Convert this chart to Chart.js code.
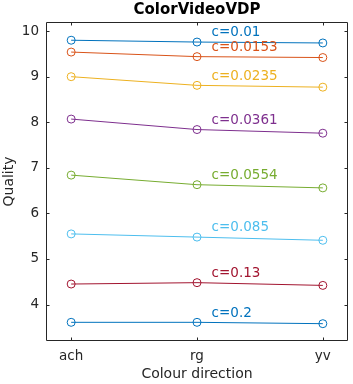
<!DOCTYPE html>
<html>
<head>
<meta charset="utf-8">
<script src="https://cdn.jsdelivr.net/npm/chart.js@4"></script>
<style>
html,body{margin:0;padding:0;background:#fff;}
#wrap{width:353px;height:384px;position:relative;}
</style>
</head>
<body>
<div id="wrap"><canvas id="c" width="353" height="384"></canvas></div>
<script>
const categories = ['ach', 'rg', 'yv'];
const contrastLabels = ['c=0.01', 'c=0.0153', 'c=0.0235', 'c=0.0361', 'c=0.0554', 'c=0.085', 'c=0.13', 'c=0.2'];
const q_c0010 = [9.80, 9.76, 9.74];
const q_c0153 = [9.54, 9.44, 9.42];
const q_c0235 = [9.00, 8.81, 8.77];
const q_c0361 = [8.07, 7.84, 7.76];
const q_c0554 = [6.84, 6.63, 6.56];
const q_c0850 = [5.55, 5.48, 5.41];
const q_c1300 = [4.45, 4.48, 4.42];
const q_c2000 = [3.61, 3.61, 3.58];
const yTickValues = [4, 5, 6, 7, 8, 9, 10];
const seriesValues = [q_c0010, q_c0153, q_c0235, q_c0361, q_c0554, q_c0850, q_c1300, q_c2000];
const colors = ['#0072BD', '#D95319', '#EDB120', '#7E2F8E', '#77AC30', '#4DBEEE', '#A2142F', '#0072BD'];

const AX = '#262626';
const FONT = 'DejaVu Sans';

const datasets = seriesValues.map((vals, i) => ({
  label: contrastLabels[i],
  data: vals.map((v, j) => ({x: j, y: v})),
  borderColor: colors[i],
  pointBorderColor: colors[i],
  backgroundColor: 'rgba(0,0,0,0)',
  pointBackgroundColor: 'rgba(0,0,0,0)',
  borderWidth: 1,
  pointRadius: 4,
  pointBorderWidth: 1,
  pointHoverRadius: 4,
  tension: 0,
  fill: false
}));

const decor = {
  id: 'decor',
  afterDraw(chart) {
    const ctx = chart.ctx;
    const a = chart.chartArea;
    const xs = chart.scales.x, ys = chart.scales.y;
    ctx.save();
    ctx.strokeStyle = AX;
    ctx.lineWidth = 1;
    const L = Math.round(a.left) + 0.5, R = Math.round(a.right) - 0.5;
    const T = Math.round(a.top) + 0.5, B = Math.round(a.bottom) - 0.5;
    ctx.beginPath();
    ctx.rect(L, T, R - L, B - T);
    ctx.stroke();
    const tl = 3;
    ctx.beginPath();
    xs.ticks.forEach(t => {
      const px = Math.round(xs.getPixelForValue(t.value)) + 0.5;
      ctx.moveTo(px, B); ctx.lineTo(px, B - tl);
      ctx.moveTo(px, T); ctx.lineTo(px, T + tl);
    });
    ys.ticks.forEach(t => {
      const py = Math.round(ys.getPixelForValue(t.value)) + 0.5;
      ctx.moveTo(L, py); ctx.lineTo(L + tl, py);
      ctx.moveTo(R, py); ctx.lineTo(R - tl, py);
    });
    ctx.stroke();
    ctx.fillStyle = '#000';
    ctx.font = 'bold 15px "' + FONT + '"';
    ctx.textAlign = 'center';
    ctx.textBaseline = 'middle';
    ctx.fillText('ColorVideoVDP', (a.left + a.right) / 2, 10);
    ctx.font = '13.5px "' + FONT + '"';
    ctx.textAlign = 'left';
    seriesValues.forEach((vals, i) => {
      ctx.fillStyle = colors[i];
      ctx.fillText(contrastLabels[i], xs.getPixelForValue(1.1) + 2, ys.getPixelForValue(vals[1] + 0.2));
    });
    ctx.restore();
  }
};

new Chart(document.getElementById('c'), {
  type: 'line',
  data: { datasets },
  options: {
    responsive: false,
    animation: false,
    events: [],
    layout: { padding: { top: 22, right: 3, left: 0, bottom: 0 } },
    plugins: { legend: { display: false }, title: { display: false }, tooltip: { enabled: false } },
    scales: {
      x: {
        type: 'linear',
        min: -0.2, max: 2.2,
        afterBuildTicks: s => { s.ticks = [0, 1, 2].map(v => ({ value: v })); },
        afterFit: s => { s.height = 43; },
        grid: { display: false, drawTicks: false },
        border: { display: false },
        ticks: {
          callback: v => categories[v],
          color: AX, font: { family: FONT, size: 13.5 }, padding: 7,
          maxRotation: 0, autoSkip: false
        },
        title: { display: true, text: 'Colour direction', color: AX, font: { family: FONT, size: 14 }, padding: { top: 0, bottom: 1 } }
      },
      y: {
        type: 'linear',
        min: 3.2, max: 10.2,
        afterBuildTicks: s => { s.ticks = yTickValues.map(v => ({ value: v })); },
        afterFit: s => { s.width = 46; },
        grid: { display: false, drawTicks: false },
        border: { display: false },
        ticks: { color: AX, font: { family: FONT, size: 13.5 }, padding: 7 },
        title: { display: true, text: 'Quality', color: AX, font: { family: FONT, size: 14 }, padding: { top: 1, bottom: 0 } }
      }
    }
  },
  plugins: [decor]
});
</script>
</body>
</html>
